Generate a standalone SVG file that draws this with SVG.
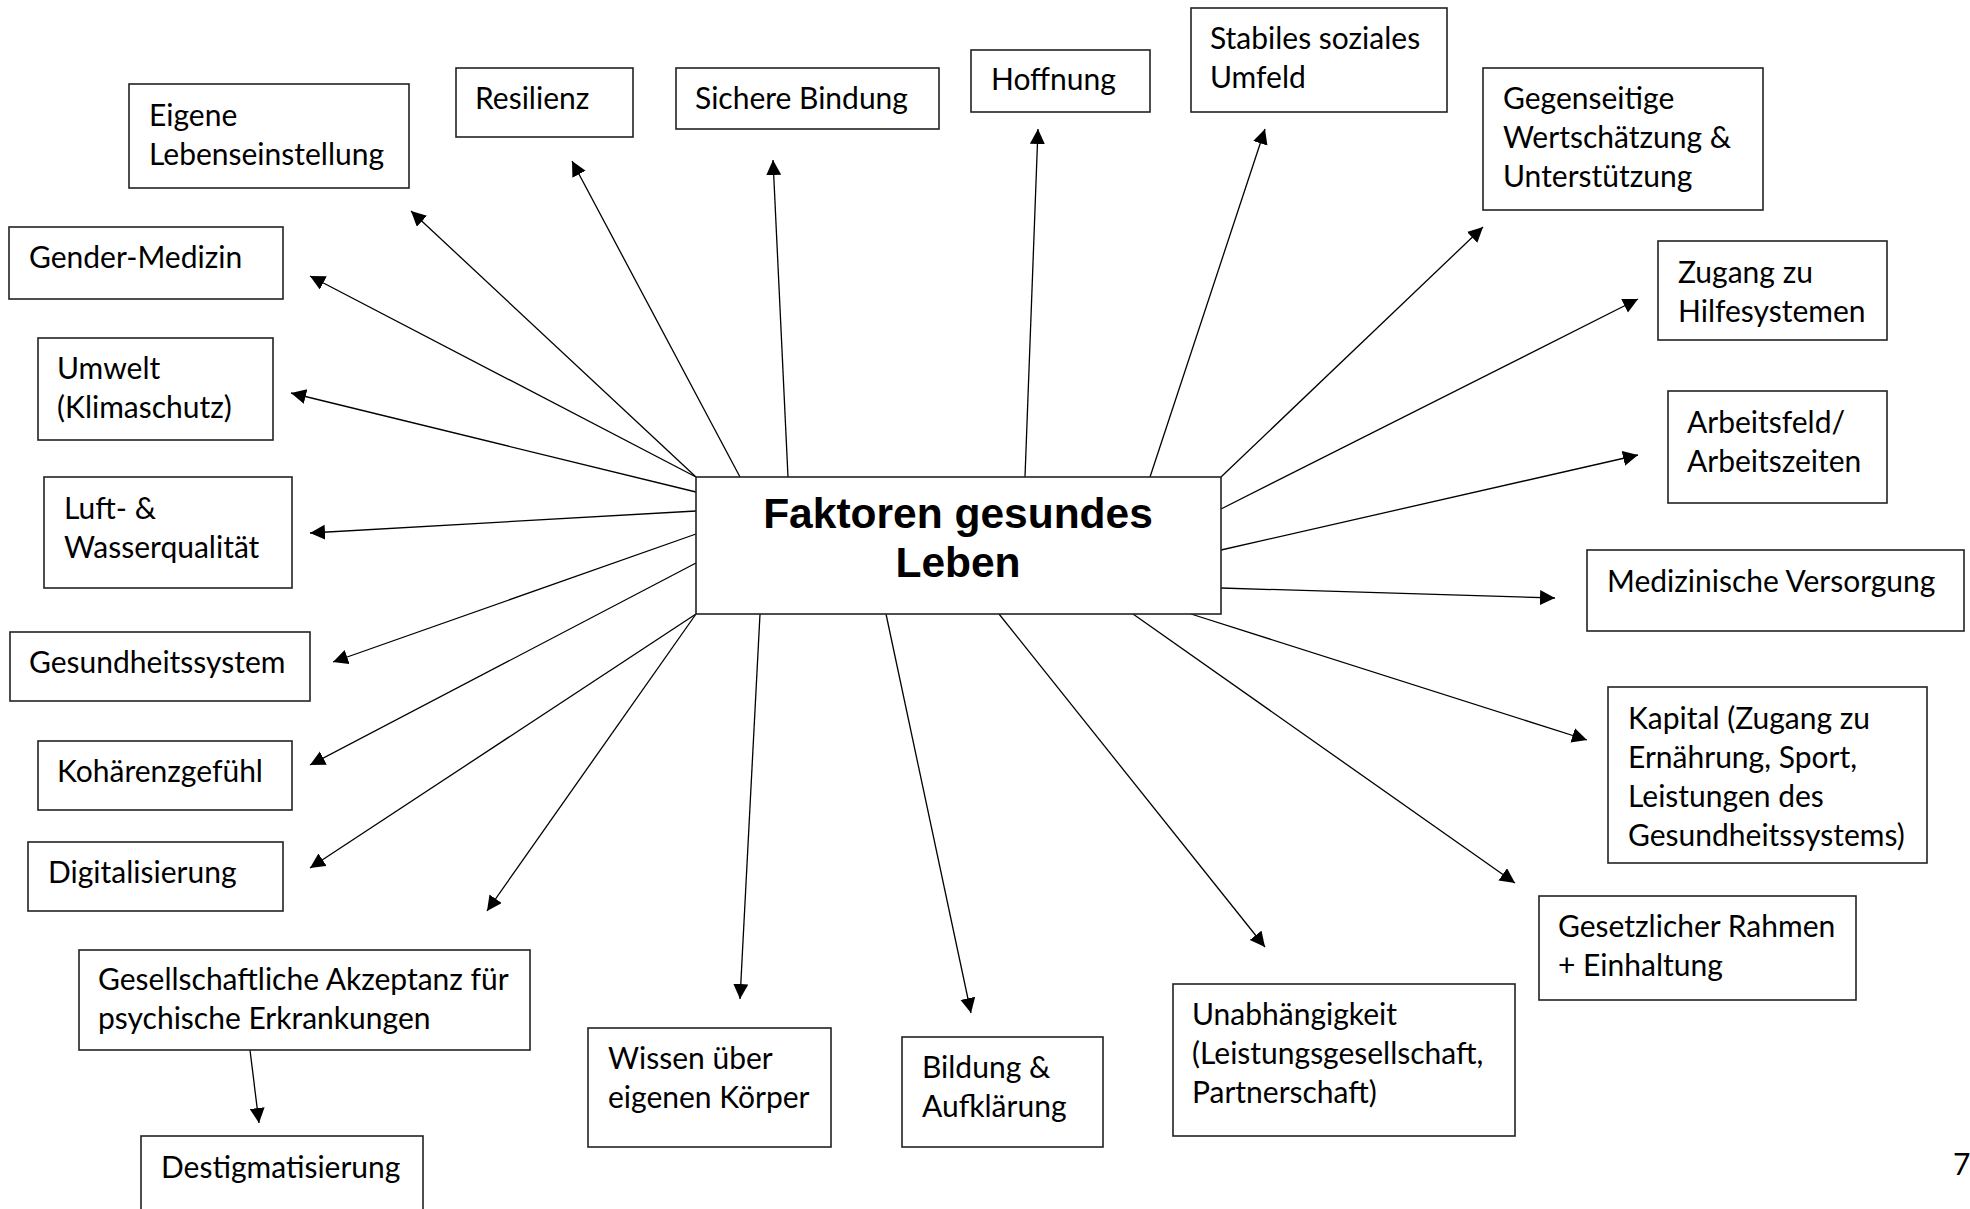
<svg xmlns="http://www.w3.org/2000/svg" width="1970" height="1209" viewBox="0 0 1970 1209">
<style>
.box{fill:#fff;stroke:#222;stroke-width:1.6}
.t{font-family:Lato,"Open Sans",sans-serif;font-size:30px;fill:#000}
.c{font-family:"Liberation Sans",Arial,sans-serif;font-size:42.5px;font-weight:bold;fill:#000;text-anchor:middle}
.ln{stroke:#000;stroke-width:1.3;fill:none;marker-end:url(#ah)}
</style>
<defs>
<marker id="ah" markerUnits="userSpaceOnUse" markerWidth="16" markerHeight="16" refX="15" refY="7.5" orient="auto">
<path d="M0,0 L15,7.5 L0,15 z" fill="#000"/>
</marker>
</defs>
<rect width="1970" height="1209" fill="#fff"/>
<g id="connectors">
<line class="ln" x1="696" y1="477" x2="411" y2="211"/>
<line class="ln" x1="696" y1="477" x2="310" y2="276"/>
<line class="ln" x1="740" y1="477" x2="572" y2="161"/>
<line class="ln" x1="788" y1="477" x2="773" y2="160"/>
<line class="ln" x1="1025" y1="477" x2="1038" y2="129"/>
<line class="ln" x1="1150" y1="477" x2="1265" y2="129"/>
<line class="ln" x1="1221" y1="477" x2="1483" y2="227"/>
<line class="ln" x1="1221" y1="509" x2="1638" y2="299"/>
<line class="ln" x1="1221" y1="550" x2="1638" y2="455"/>
<line class="ln" x1="1221" y1="588" x2="1555" y2="598"/>
<line class="ln" x1="1191" y1="614" x2="1587" y2="740"/>
<line class="ln" x1="1133" y1="614" x2="1515" y2="883"/>
<line class="ln" x1="999" y1="614" x2="1265" y2="947"/>
<line class="ln" x1="886" y1="614" x2="971" y2="1013"/>
<line class="ln" x1="760" y1="614" x2="740" y2="999"/>
<line class="ln" x1="696" y1="614" x2="487" y2="911"/>
<line class="ln" x1="696" y1="614" x2="310" y2="868"/>
<line class="ln" x1="696" y1="563" x2="310" y2="765"/>
<line class="ln" x1="696" y1="534" x2="333" y2="662"/>
<line class="ln" x1="696" y1="511" x2="310" y2="533"/>
<line class="ln" x1="696" y1="492" x2="291" y2="393"/>
<line class="ln" x1="250" y1="1050" x2="259" y2="1123"/>
</g>
<g id="center">
<rect class="box" x="696" y="477" width="525" height="137"/>
<text class="c" x="958" y="528">Faktoren gesundes</text>
<text class="c" x="958" y="577">Leben</text>
</g>
<g id="eigene"><rect class="box" x="129" y="84" width="280" height="104"/><text class="t" x="149" y="126">Eigene</text><text class="t" x="149" y="165">Lebenseinstellung</text></g>
<g id="resilienz"><rect class="box" x="456" y="68" width="177" height="69"/><text class="t" x="475" y="109">Resilienz</text></g>
<g id="bindung"><rect class="box" x="676" y="68" width="263" height="61"/><text class="t" x="695" y="109">Sichere Bindung</text></g>
<g id="hoffnung"><rect class="box" x="971" y="50" width="179" height="62"/><text class="t" x="991" y="90">Hoffnung</text></g>
<g id="umfeld"><rect class="box" x="1191" y="8" width="256" height="104"/><text class="t" x="1210" y="49">Stabiles soziales</text><text class="t" x="1210" y="88">Umfeld</text></g>
<g id="wertschaetzung"><rect class="box" x="1483" y="68" width="280" height="142"/><text class="t" x="1503" y="109">Gegenseitige</text><text class="t" x="1503" y="148">Wertschätzung &amp;</text><text class="t" x="1503" y="187">Unterstützung</text></g>
<g id="zugang"><rect class="box" x="1658" y="241" width="229" height="99"/><text class="t" x="1678" y="283">Zugang zu</text><text class="t" x="1678" y="322">Hilfesystemen</text></g>
<g id="arbeit"><rect class="box" x="1668" y="391" width="219" height="112"/><text class="t" x="1687" y="433">Arbeitsfeld/</text><text class="t" x="1687" y="472">Arbeitszeiten</text></g>
<g id="medizin"><rect class="box" x="1587" y="550" width="377" height="81"/><text class="t" x="1607" y="592">Medizinische Versorgung</text></g>
<g id="kapital"><rect class="box" x="1608" y="687" width="319" height="176"/><text class="t" x="1628" y="729">Kapital (Zugang zu</text><text class="t" x="1628" y="768">Ernährung, Sport,</text><text class="t" x="1628" y="807">Leistungen des</text><text class="t" x="1628" y="846">Gesundheitssystems)</text></g>
<g id="rahmen"><rect class="box" x="1539" y="896" width="317" height="104"/><text class="t" x="1558" y="937">Gesetzlicher Rahmen</text><text class="t" x="1558" y="976">+ Einhaltung</text></g>
<g id="unabhaengigkeit"><rect class="box" x="1173" y="984" width="342" height="152"/><text class="t" x="1192" y="1025">Unabhängigkeit</text><text class="t" x="1192" y="1064">(Leistungsgesellschaft,</text><text class="t" x="1192" y="1103">Partnerschaft)</text></g>
<g id="bildung"><rect class="box" x="902" y="1037" width="201" height="110"/><text class="t" x="922" y="1078">Bildung &amp;</text><text class="t" x="922" y="1117">Aufklärung</text></g>
<g id="wissen"><rect class="box" x="588" y="1028" width="243" height="119"/><text class="t" x="608" y="1069">Wissen über</text><text class="t" x="608" y="1108">eigenen Körper</text></g>
<g id="akzeptanz"><rect class="box" x="79" y="950" width="451" height="100"/><text class="t" x="98" y="990">Gesellschaftliche Akzeptanz für</text><text class="t" x="98" y="1029">psychische Erkrankungen</text></g>
<g id="destigmatisierung"><rect class="box" x="141" y="1136" width="282" height="90"/><text class="t" x="161" y="1178">Destigmatisierung</text></g>
<g id="digitalisierung"><rect class="box" x="28" y="842" width="255" height="69"/><text class="t" x="48" y="883">Digitalisierung</text></g>
<g id="kohaerenz"><rect class="box" x="38" y="741" width="254" height="69"/><text class="t" x="57" y="782">Kohärenzgefühl</text></g>
<g id="gesundheitssystem"><rect class="box" x="10" y="632" width="300" height="69"/><text class="t" x="29" y="673">Gesundheitssystem</text></g>
<g id="luft"><rect class="box" x="44" y="477" width="248" height="111"/><text class="t" x="64" y="519">Luft- &amp;</text><text class="t" x="64" y="558">Wasserqualität</text></g>
<g id="umwelt"><rect class="box" x="38" y="338" width="235" height="102"/><text class="t" x="57" y="379">Umwelt</text><text class="t" x="57" y="418">(Klimaschutz)</text></g>
<g id="gender"><rect class="box" x="9" y="227" width="274" height="72"/><text class="t" x="29" y="268">Gender-Medizin</text></g>
<text class="t" x="1953" y="1175">7</text>
</svg>
